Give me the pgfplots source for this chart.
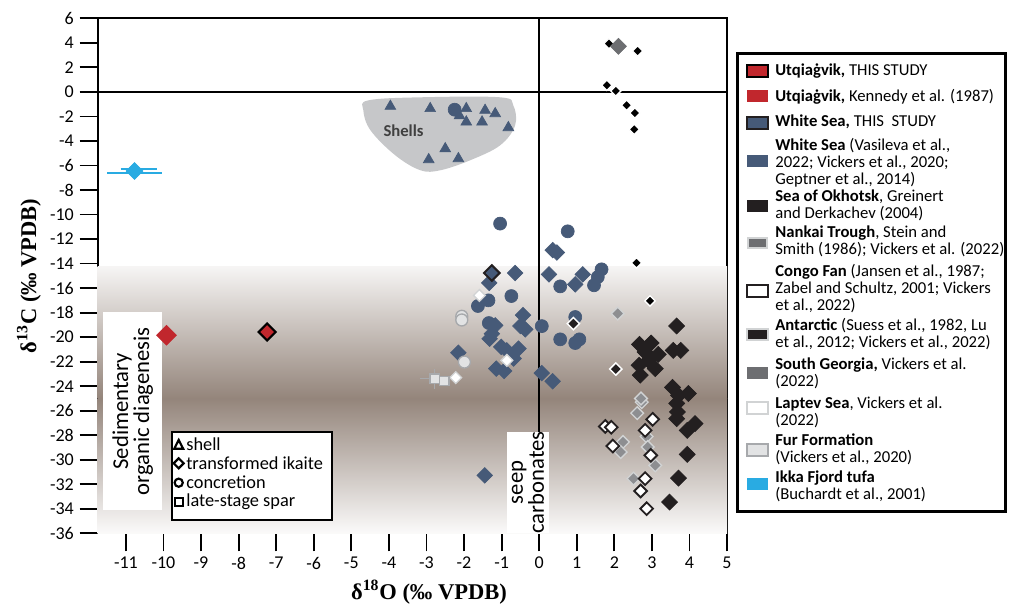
\documentclass[border=0pt]{standalone}
\usepackage{fontspec}
\setmainfont{Carlito}
\newfontfamily\tnr{Liberation Serif}
\usepackage{pgfplots}
\pgfplotsset{compat=1.18}

\definecolor{wsblue}{HTML}{465A78}
\definecolor{ured}{HTML}{C1272D}
\definecolor{okblack}{HTML}{231F20}
\definecolor{sggray}{HTML}{6D6E71}
\definecolor{ikka}{HTML}{29ABE2}
\definecolor{shellgray}{HTML}{C6C7C9}
\definecolor{sedbrown}{HTML}{94857B}
\definecolor{furfill}{HTML}{E2E3E4}
\definecolor{furline}{HTML}{A7A9AC}
\definecolor{lightline}{HTML}{D1D3D4}
\definecolor{midgray}{HTML}{8D8E91}

\begin{document}
\begin{tikzpicture}
\path[use as bounding box] (0pt,0pt) rectangle (605.4pt,-363pt);
\begin{axis}[
  at={(58.62pt,-320pt)}, anchor=south west,
  scale only axis, width=377.6pt, height=309pt,
  xmin=-11.75, xmax=5, ymin=-36, ymax=6,
  xtick={-11,...,5}, ytick={-36,-34,...,6},
  tick align=outside, xtick pos=bottom, ytick pos=left,
  major tick length=10.8pt,
  tick style={black, line width=1.1pt},
  axis line style={line width=1.1pt},
  tick label style={font=\fontsize{10.8}{12}\selectfont},
  /pgf/number format/assume math mode=true,
  clip marker paths=false,
]
% background: diagenesis gradient
\fill[top color=sedbrown!8, bottom color=sedbrown] (axis cs:-11.75,-14.2) rectangle (axis cs:5,-25);
\fill[top color=sedbrown, bottom color=sedbrown!4] (axis cs:-11.75,-25) rectangle (axis cs:5,-36);

% seep carbonates hatch
\pgfplotsextra{
  \begin{scope}
  \clip (axis cs:-1.42,-27.1) rectangle (axis cs:5,-36);
  \foreach \k in {0,...,54}{
    \draw[black!65, line width=0.5pt, dash pattern=on 0.5pt off 1pt]
      (axis cs:-4.4,-27.1) ++(\k*4.2pt,0) -- ++(70pt,-70pt);
  }
  \end{scope}
}

% zero lines
\draw[line width=1.1pt] (axis cs:-11.75,0) -- (axis cs:5,0);
\draw[line width=1.1pt] (axis cs:0,6) -- (axis cs:0,-36);

% label boxes
\fill[white] (axis cs:-0.85,-27.7) rectangle (axis cs:0.26,-36);
\node[rotate=90, align=center, inner sep=0, font=\fontsize{13.6}{10}\selectfont]
  at (axis cs:-0.30,-31.85) {seep\\carbonates};
\fill[white] (axis cs:-11.6,-17.98) rectangle (axis cs:-10.05,-34.13);
\node[rotate=90, align=center, inner sep=0, font=\fontsize{13.6}{12.6}\selectfont]
  at (axis cs:-10.82,-26.05) {Sedimentary\\organic diagenesis};

% shells field
\fill[shellgray] plot[smooth cycle, tension=0.6] coordinates {
  (-4.55,-0.69) (-3.16,-0.44) (-1.04,-0.44) (-0.69,-1.09) (-0.64,-2.73)
  (-1.04,-4.36) (-1.84,-5.58) (-2.63,-6.39) (-3.16,-6.39) (-3.83,-5.17)
  (-4.49,-3.13) (-4.68,-1.5)};
\node[font=\bfseries\fontsize{10}{12}\selectfont, text=black!75] at (axis cs:-3.61,-3.13) {Shells};

% White Sea, literature: concretions
\addplot[wsblue, only marks, mark=*, mark size=3.9pt, mark options={draw=none, fill=wsblue}] coordinates {
  (-1.04,-10.74) (0.76,-11.37) (1.66,-14.47) (1.56,-15.10) (1.46,-15.77)
  (0.56,-15.86) (-1.35,-17.00) (-1.63,-17.46) (-0.74,-16.65) (-1.34,-18.85)
  (0.07,-19.10) (0.96,-18.36) (1.07,-20.18) (0.96,-20.48) (0.56,-20.18)
  (-2.25,-1.45)
};
% White Sea, literature: transformed ikaite
\addplot[wsblue, only marks, mark=square*, mark size=3.3pt, mark options={rotate=45, draw=none, fill=wsblue}] coordinates {
  (0.36,-12.90) (0.47,-13.10) (-0.64,-14.77) (0.26,-14.88) (1.16,-14.88)
  (0.96,-15.69) (-1.33,-15.58) (-1.17,-19.04) (-1.26,-19.72) (-1.32,-20.13)
  (-0.43,-18.20) (-0.37,-19.36) (-0.50,-19.10) (-1.01,-20.80) (-0.86,-21.08)
  (-0.55,-20.94) (-0.68,-21.75) (-1.14,-22.57) (-0.93,-22.76) (-2.15,-21.27)
  (0.07,-22.93) (0.36,-23.60) (-1.45,-31.27)
};
% White Sea, literature: shells
\addplot[wsblue, only marks, mark=triangle*, mark size=3.7pt, mark options={draw=none, fill=wsblue}] coordinates {
  (-3.96,-1.17) (-2.90,-1.36) (-1.94,-1.36) (-1.44,-1.50) (-1.17,-1.77)
  (-1.94,-2.45) (-1.52,-2.45) (-0.82,-2.91) (-2.50,-4.63) (-2.94,-5.52)
  (-2.15,-5.44) (-2.12,-1.95)
};
% White Sea, this study
\addplot[okblack, only marks, mark=square*, mark size=3.3pt, mark options={rotate=45, draw=okblack, line width=1.2pt, fill=wsblue}] coordinates {
  (-1.26,-14.77)
};
% Sea of Okhotsk / Antarctic, large
\addplot[okblack, only marks, mark=square*, mark size=3.4pt, mark options={rotate=45, draw=none, fill=okblack}] coordinates {
  (2.67,-20.59) (2.98,-20.48) (2.82,-21.21) (3.17,-21.40) (2.91,-21.89)
  (2.66,-22.30) (3.09,-22.57) (2.69,-23.10) (3.57,-21.08) (3.77,-21.08)
  (3.66,-19.09) (3.55,-24.10) (3.71,-24.75) (3.66,-25.40) (3.68,-26.10)
  (3.66,-26.65) (3.97,-24.60) (4.15,-27.05) (3.94,-27.60) (3.94,-29.56)
  (3.71,-31.50) (3.47,-33.45)
};
% Antarctic, small with halo
\addplot[black, only marks, mark=square*, mark size=2.2pt, mark options={rotate=45, draw=white, line width=0.8pt, fill=black}] coordinates {
  (1.86,3.94) (2.62,3.34) (1.80,0.54) (2.04,0.08) (2.33,-1.09)
  (2.55,-1.72) (2.53,-3.05) (2.59,-13.95) (2.95,-17.05)
};
\addplot[okblack, only marks, mark=square*, mark size=2.6pt, mark options={rotate=45, draw=white, line width=0.9pt, fill=okblack}] coordinates {
  (0.91,-18.90) (2.04,-22.60)
};
% South Georgia
\addplot[sggray, only marks, mark=square*, mark size=3.4pt, mark options={rotate=45, draw=none, fill=sggray}] coordinates {
  (2.11,3.72)
};
% Nankai Trough
\addplot[midgray, only marks, mark=square*, mark size=2.7pt, mark options={rotate=45, draw=lightline, line width=0.8pt, fill=midgray}] coordinates {
  (2.09,-18.08) (2.73,-25.30) (2.61,-26.20) (2.23,-28.55) (2.17,-29.37)
  (2.86,-28.10) (2.89,-28.96) (3.09,-30.46) (2.51,-31.54) (2.71,-25.00)
};
% Congo Fan
\addplot[okblack, only marks, mark=square*, mark size=2.7pt, mark options={rotate=45, draw=okblack, line width=1.1pt, fill=white}] coordinates {
  (1.76,-27.28) (1.92,-27.35) (3.02,-26.70) (2.82,-27.60) (1.96,-28.88)
  (2.97,-29.64) (2.82,-31.54) (2.70,-32.55) (2.86,-33.99)
};
% Laptev Sea
\addplot[lightline, only marks, mark=square*, mark size=2.5pt, mark options={rotate=45, draw=lightline, line width=0.8pt, fill=white}] coordinates {
  (-1.59,-16.60) (-0.86,-21.90) (-2.22,-23.30)
};
% Fur Formation
\addplot[furline, line width=0.8pt] coordinates {(-3.16,-23.39) (-2.42,-23.39)};
\addplot[furline, line width=0.8pt] coordinates {(-2.78,-22.60) (-2.78,-24.20)};
\addplot[furline, only marks, mark=*, mark size=3.6pt, mark options={draw=furline, line width=0.8pt, fill=furfill}] coordinates {
  (-2.06,-18.30) (-2.06,-18.60) (-1.99,-22.03)
};
\addplot[furline, only marks, mark=square*, mark size=2.8pt, mark options={draw=furline, line width=0.8pt, fill=furfill}] coordinates {
  (-2.78,-23.39) (-2.52,-23.58)
};
% Utqiagvik
\addplot[ured, only marks, mark=square*, mark size=4.2pt, mark options={rotate=45, draw=none, fill=ured}] coordinates {
  (-9.92,-19.85)
};
\addplot[black, only marks, mark=square*, mark size=3.6pt, mark options={rotate=45, draw=black, line width=1.3pt, fill=ured}] coordinates {
  (-7.24,-19.58)
};
% Ikka Fjord tufa
\addplot[ikka, line width=1.2pt] coordinates {(-11.49,-6.60) (-10.03,-6.60)};
\addplot[ikka, line width=1.2pt] coordinates {(-11.14,-6.30) (-10.16,-6.30)};
\addplot[ikka, only marks, mark=square*, mark size=3.6pt, mark options={rotate=45, draw=none, fill=ikka}] coordinates {
  (-10.77,-6.45)
};
\end{axis}

\begin{scope}[x=0.6pt, y=-0.6pt]
% axis titles
\node[rotate=90, font=\tnr\bfseries\fontsize{13.5}{16}\selectfont] at (29,275.8) {δ\textsuperscript{13}C (‰ VPDB)};
\node[font=\tnr\bfseries\fontsize{13.5}{16}\selectfont] at (429,592) {δ\textsuperscript{18}O (‰ VPDB)};

% symbol key
\draw[line width=1.5pt, fill=white] (172,432) rectangle (332,520);
\begin{scope}[line width=1.3pt]
\draw (178.7,440) -- (183.2,448.8) -- (174.2,448.8) -- cycle;
\draw (178.7,458.3) -- (183.7,463.3) -- (178.7,468.3) -- (173.7,463.3) -- cycle;
\draw (178.7,482.7) circle (4.1);
\draw (174.7,497.7) rectangle (182.7,505.7);
\end{scope}
\begin{scope}[font=\fontsize{11}{12}\selectfont]
\node[anchor=west, inner sep=0] at (186,444.5) {shell};
\node[anchor=west, inner sep=0] at (186,463.3) {transformed ikaite};
\node[anchor=west, inner sep=0] at (186,482.7) {concretion};
\node[anchor=west, inner sep=0] at (186,501.7) {late-stage spar};
\end{scope}

% locality key
\draw[line width=1.8pt, fill=white] (737,54) rectangle (1005,511);
\draw[fill=ured, draw=black, line width=1.5pt] (747,65) rectangle (768,77);
\fill[ured] (747,90) rectangle (768,102);
\draw[fill=wsblue, draw=okblack, line width=1.5pt] (747,117) rectangle (768,129);
\fill[wsblue] (747,155) rectangle (768,167);
\fill[okblack] (747,200) rectangle (768,212);
\draw[fill=sggray, draw=lightline, line width=1.3pt] (748,238) rectangle (767,248);
\draw[fill=white, draw=okblack, line width=1.5pt] (747,285) rectangle (768,297);
\draw[fill=okblack, draw=lightline, line width=1pt] (747,329) rectangle (768,340);
\fill[sggray] (747,367) rectangle (768,379);
\draw[fill=white, draw=lightline, line width=1.3pt] (747,402) rectangle (768,414);
\draw[fill=furfill, draw=furline, line width=1.3pt] (747,444) rectangle (768,456);
\fill[ikka] (747,478) rectangle (768,490);
\begin{scope}[every node/.style={anchor=west, inner sep=0, align=left, font=\fontsize{10}{10.2}\selectfont}]
\node at (775,71) {\textbf{Utqiaġvik,} THIS STUDY};
\node at (775,96.5) {\textbf{Utqiaġvik,} Kennedy et al. (1987)};
\node at (775,122) {\textbf{White Sea,} THIS\ \ STUDY};
\node at (775,162.5) {\textbf{White Sea} (Vasileva et al.,\\2022; Vickers et al., 2020;\\Geptner et al., 2014)};
\node at (775,205.5) {\textbf{Sea of Okhotsk}, Greinert\\and Derkachev (2004)};
\node at (775,241) {\textbf{Nankai Trough}, Stein and\\Smith (1986); Vickers et al. (2022)};
\node at (775,289) {\textbf{Congo Fan} (Jansen et al., 1987;\\Zabel and Schultz, 2001; Vickers\\et al., 2022)};
\node at (775,334) {\textbf{Antarctic} (Suess et al., 1982, Lu\\et al., 2012; Vickers et al., 2022)};
\node at (775,373.5) {\textbf{South Georgia,} Vickers et al.\\(2022)};
\node at (775,412) {\textbf{Laptev Sea}, Vickers et al.\\(2022)};
\node at (775,449) {\textbf{Fur Formation}\\(Vickers et al., 2020)};
\node at (775,486) {\textbf{Ikka Fjord tufa}\\(Buchardt et al., 2001)};
\end{scope}
\end{scope}
\end{tikzpicture}
\end{document}
